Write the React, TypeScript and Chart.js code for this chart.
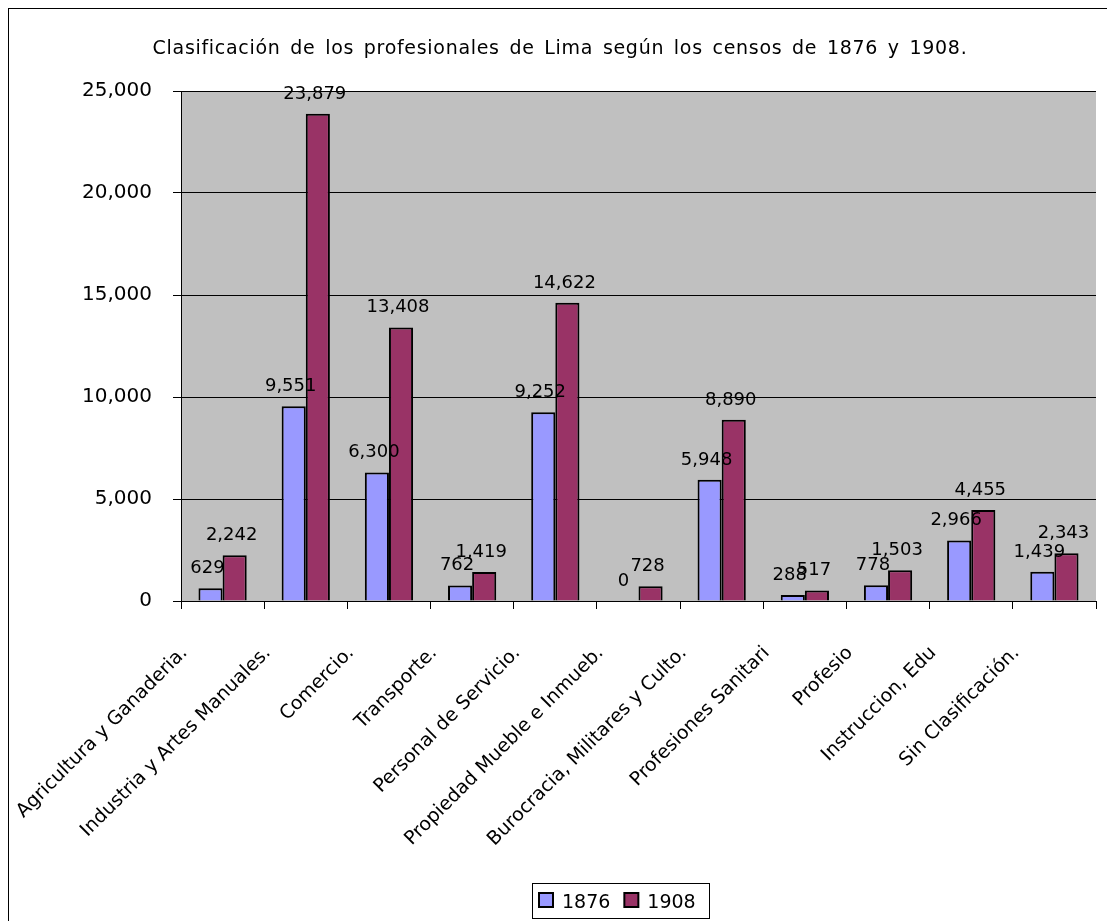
import React, { useEffect, useRef } from "react";
import { Chart, registerables } from "chart.js";

Chart.register(...registerables);

const categories = [
  "Agricultura y Ganaderia.",
  "Industria y Artes Manuales.",
  "Comercio.",
  "Transporte.",
  "Personal de Servicio.",
  "Propiedad Mueble e Inmueb.",
  "Burocracia, Militares y Culto.",
  "Profesiones Sanitari",
  "Profesio",
  "Instruccion, Edu",
  "Sin Clasificación.",
];
const values1876 = [629, 9551, 6300, 762, 9252, 0, 5948, 288, 778, 2966, 1439];
const values1908 = [2242, 23879, 13408, 1419, 14622, 728, 8890, 517, 1503, 4455, 2343];
const seriesLabels = ["1876", "1908"];
const seriesColors = ["#9999FF", "#993366"];
const titleText = "Clasificación de los profesionales de Lima según los censos de 1876 y 1908.";
const yMin = 0;
const yMax = 25000;
const yStep = 5000;

const FONT = '"DejaVu Sans", Verdana, sans-serif';

export default function App() {
  const ref = useRef<HTMLCanvasElement>(null);

  useEffect(() => {
    const canvas = ref.current;
    if (!canvas) return;

    const bgPlugin = {
      id: "bgPlugin",
      beforeDraw(chart: any) {
        const { ctx, chartArea: a, width, height } = chart;
        ctx.save();
        ctx.fillStyle = "#ffffff";
        ctx.fillRect(0, 0, width, height);
        ctx.fillStyle = "#C0C0C0";
        ctx.fillRect(a.left, a.top, a.right - a.left, a.bottom - a.top);
        ctx.restore();
      },
    };

    const valueLabels = {
      id: "valueLabels",
      afterDatasetsDraw(chart: any) {
        const ctx = chart.ctx;
        ctx.save();
        ctx.font = `18px ${FONT}`;
        ctx.fillStyle = "#000";
        ctx.textAlign = "center";
        ctx.textBaseline = "alphabetic";
        chart.data.datasets.forEach((ds: any, i: number) => {
          const meta = chart.getDatasetMeta(i);
          meta.data.forEach((el: any, j: number) => {
            const v = ds.data[j] as number;
            ctx.fillText(v.toLocaleString("en-US"), el.x - 3, el.y - 15);
          });
        });
        ctx.restore();
      },
    };

    const titleLegend = {
      id: "titleLegend",
      afterDraw(chart: any) {
        const ctx = chart.ctx;
        ctx.save();
        ctx.fillStyle = "#000";
        ctx.font = `19px ${FONT}`;
        (ctx as any).letterSpacing = "0.7px";
        (ctx as any).wordSpacing = "3px";
        ctx.textAlign = "center";
        ctx.textBaseline = "alphabetic";
        ctx.fillText(titleText, 551, 45);
        (ctx as any).letterSpacing = "0px";
        (ctx as any).wordSpacing = "0px";

        ctx.font = `19px ${FONT}`;
        ctx.textAlign = "left";
        const items = chart.data.datasets.map((ds: any) => ({
          text: ds.label,
          color: ds.backgroundColor,
          w: ctx.measureText(ds.label).width,
        }));
        const sq = 14, gapSqText = 9, gapItem = 14, padL = 7, padR = 13;
        let inner = 0;
        items.forEach((it: any, k: number) => {
          inner += sq + gapSqText + it.w + (k < items.length - 1 ? gapItem : 0);
        });
        const total = padL + inner + padR;
        const cx = 611;
        const boxL = Math.round(cx - total / 2);
        const boxT = 874, boxH = 35;
        ctx.strokeStyle = "#000";
        ctx.lineWidth = 1;
        ctx.strokeRect(boxL + 0.5, boxT + 0.5, Math.round(total), boxH);
        let x = boxL + padL;
        items.forEach((it: any) => {
          ctx.fillStyle = it.color;
          ctx.fillRect(x, 884, sq, sq);
          ctx.lineWidth = 2;
          ctx.strokeStyle = "#000";
          ctx.strokeRect(x, 884, sq, sq);
          ctx.fillStyle = "#000";
          ctx.fillText(it.text, x + sq + gapSqText, 899);
          x += sq + gapSqText + it.w + gapItem;
        });
        ctx.restore();
      },
    };

    const chart = new Chart(canvas, {
      type: "bar",
      data: {
        labels: categories,
        datasets: [
          {
            label: seriesLabels[0],
            data: values1876,
            backgroundColor: seriesColors[0],
            borderColor: "#000",
            borderWidth: 2,
          },
          {
            label: seriesLabels[1],
            data: values1908,
            backgroundColor: seriesColors[1],
            borderColor: "#000",
            borderWidth: 2,
          },
        ],
      },
      options: {
        responsive: false,
        animation: false,
        layout: { padding: { top: 82, right: 11, left: 0, bottom: 0 } },
        plugins: {
          legend: { display: false },
          title: { display: false },
          tooltip: { enabled: false },
        },
        datasets: { bar: { categoryPercentage: 0.58, barPercentage: 1 } },
        scales: {
          x: {
            offset: true,
            grid: {
              offset: true,
              drawOnChartArea: false,
              drawTicks: true,
              tickLength: 8,
              color: "#000",
              lineWidth: 1,
            },
            border: { display: true, color: "#000", width: 1 },
            ticks: {
              autoSkip: false,
              maxRotation: 45,
              minRotation: 45,
              padding: 33,
              labelOffset: -38,
              color: "#000",
              font: { family: FONT, size: 19 },
            },
            afterFit: (s: any) => {
              s.height = 320;
            },
          },
          y: {
            min: yMin,
            max: yMax,
            ticks: {
              stepSize: yStep,
              padding: 21,
              color: "#000",
              font: { family: FONT, size: 20 },
              callback: (v: any) => Number(v).toLocaleString("en-US"),
            },
            grid: { color: "#000", lineWidth: 1, tickLength: 8, drawTicks: true },
            border: { display: true, color: "#000", width: 1 },
            afterFit: (s: any) => {
              s.width = 172;
            },
          },
        },
      } as any,
      plugins: [bgPlugin, valueLabels, titleLegend],
    });

    return () => chart.destroy();
  }, []);

  return (
    <div
      style={{
        position: "fixed",
        left: 8,
        top: 8,
        width: 1098,
        height: 912,
        borderLeft: "1px solid #000",
        borderTop: "1px solid #000",
        background: "#fff",
      }}
    >
      <canvas ref={ref} width={1098} height={912} style={{ display: "block" }} />
    </div>
  );
}
